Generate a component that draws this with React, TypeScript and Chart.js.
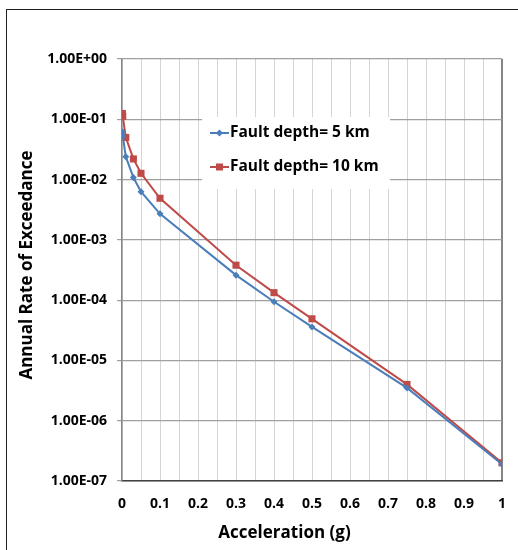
import React, { useEffect, useRef } from "react";
import { Chart, registerables } from "chart.js";

Chart.register(...registerables);

const accel5 = [0.001, 0.002, 0.01, 0.03, 0.05, 0.1, 0.3, 0.4, 0.5, 0.75, 1.0];
const rate5 = [6.2e-2, 5.3e-2, 2.4e-2, 1.08e-2, 6.3e-3, 2.7e-3, 2.6e-4, 9.4e-5, 3.6e-5, 3.5e-6, 1.9e-7];
const accel10 = [0.001, 0.002, 0.01, 0.03, 0.05, 0.1, 0.3, 0.4, 0.5, 0.75, 1.0];
const rate10 = [0.125, 0.112, 0.05, 0.022, 0.0127, 4.9e-3, 3.8e-4, 1.33e-4, 4.9e-5, 4.0e-6, 2.0e-7];
const seriesNames = ["Fault depth= 5 km", "Fault depth= 10 km"];
const yDecades = [1e-7, 1e-6, 1e-5, 1e-4, 1e-3, 1e-2, 1e-1, 1];
const xTitle = "Acceleration (g)";
const yTitle = "Annual Rate of Exceedance";

const BLUE = "#4a7ebb";
const RED = "#be4b48";
const FONT = "'Open Sans'";

function fmtExp(v: number): string {
  const e = Math.round(Math.log10(v));
  const sign = e < 0 ? "-" : "+";
  const a = Math.abs(e);
  return "1.00E" + sign + (a < 10 ? "0" + a : String(a));
}

const overlay = {
  id: "overlay",
  afterDraw(chart: any) {
    const ctx = chart.ctx;
    ctx.save();
    ctx.strokeStyle = "#202020";
    ctx.lineWidth = 1;
    ctx.strokeRect(6.5, 9.5, 800, 800);

    const lx = 202, ly = 117, lw = 188, lh = 72;
    ctx.fillStyle = "#ffffff";
    ctx.fillRect(lx, ly, lw, lh);
    const entries = [
      { name: seriesNames[0], color: BLUE, diamond: true, y: 133 },
      { name: seriesNames[1], color: RED, diamond: false, y: 167 },
    ];
    entries.forEach((en) => {
      ctx.strokeStyle = en.color;
      ctx.lineWidth = 2;
      ctx.beginPath();
      ctx.moveTo(210, en.y);
      ctx.lineTo(229, en.y);
      ctx.stroke();
      ctx.fillStyle = en.color;
      const cx = 219.5;
      if (en.diamond) {
        ctx.beginPath();
        ctx.moveTo(cx, en.y - 3.5);
        ctx.lineTo(cx + 3.5, en.y);
        ctx.lineTo(cx, en.y + 3.5);
        ctx.lineTo(cx - 3.5, en.y);
        ctx.closePath();
        ctx.fill();
      } else {
        ctx.fillRect(cx - 3.5, en.y - 3.5, 7, 7);
      }
      ctx.fillStyle = "#000";
      ctx.font = `bold 15.5px ${FONT}`;
      ctx.textAlign = "left";
      ctx.textBaseline = "middle";
      ctx.fillText(en.name, 230, en.y);
    });

    ctx.fillStyle = "#000";
    ctx.font = `bold 17px ${FONT}`;
    ctx.textAlign = "center";
    ctx.textBaseline = "middle";
    ctx.fillText(xTitle, 284.5, 533);
    ctx.translate(27, 265);
    ctx.rotate(-Math.PI / 2);
    ctx.fillText(yTitle, 0, 0);
    ctx.restore();
  },
};

export default function App() {
  const ref = useRef<HTMLCanvasElement | null>(null);
  useEffect(() => {
    if (!ref.current) return;
    const mk = (xs: number[], ys: number[]) => xs.map((x, i) => ({ x, y: ys[i] }));
    const chart = new Chart(ref.current, {
      type: "line",
      data: {
        datasets: [
          {
            label: seriesNames[0],
            data: mk(accel5, rate5),
            borderColor: BLUE,
            backgroundColor: BLUE,
            borderWidth: 2,
            pointStyle: "rectRot",
            pointRadius: 3.5,
            pointBorderWidth: 0,
            pointHoverRadius: 3.5,
            tension: 0,
          },
          {
            label: seriesNames[1],
            data: mk(accel10, rate10),
            borderColor: RED,
            backgroundColor: RED,
            borderWidth: 2,
            pointStyle: "rect",
            pointRadius: 5,
            pointBorderWidth: 0,
            pointHoverRadius: 5,
            tension: 0,
          },
        ],
      },
      options: {
        responsive: false,
        animation: false,
        events: [],
        layout: { autoPadding: false, padding: { left: 0, top: 59, right: 16, bottom: 0 } },
        plugins: { legend: { display: false }, tooltip: { enabled: false }, title: { display: false } },
        scales: {
          x: {
            type: "linear",
            min: 0,
            max: 1,
            afterFit: (s: any) => {
              s.height = 69;
              s.paddingLeft = 0;
              s.paddingRight = 0;
            },
            ticks: {
              stepSize: 0.05,
              autoSkip: false,
              maxRotation: 0,
              padding: 15,
              color: "#000",
              font: { family: FONT, size: 14, weight: "bold" },
              callback: (v: any) => {
                const t = Number(v) * 10;
                if (Math.abs(t - Math.round(t)) > 1e-6) return "";
                const r = Math.round(t) / 10;
                return String(r);
              },
            },
            grid: {
              drawTicks: false,
              color: (c: any) => (c.tick && Math.abs(c.tick.value - 1) < 1e-9 ? "#868686" : "#d4d4d4"),
              lineWidth: (c: any) => (c.tick && Math.abs(c.tick.value - 1) < 1e-9 ? 2 : 1),
            },
            border: { color: "#404040", width: 1.5 },
          },
          y: {
            type: "logarithmic",
            min: 1e-7,
            max: 1,
            afterFit: (s: any) => {
              s.width = 122;
              s.paddingTop = 0;
              s.paddingBottom = 0;
            },
            afterBuildTicks: (s: any) => {
              s.ticks = yDecades.map((v) => ({ value: v, major: true }));
            },
            ticks: {
              autoSkip: false,
              padding: 10,
              color: "#000",
              font: { family: FONT, size: 14, weight: "bold" },
              callback: (v: any) => fmtExp(Number(v)),
            },
            grid: { color: "#a0a0a0", tickLength: 5, lineWidth: 1.2 },
            border: { color: "#868686", width: 1.5 },
          },
        },
      },
      plugins: [overlay],
    } as any);
    return () => chart.destroy();
  }, []);
  return (
    <div style={{ position: "absolute", left: 0, top: 0, width: 518, height: 550, background: "#fff" }}>
      <canvas ref={ref} width={518} height={550} style={{ display: "block", width: 518, height: 550 }} />
    </div>
  );
}
